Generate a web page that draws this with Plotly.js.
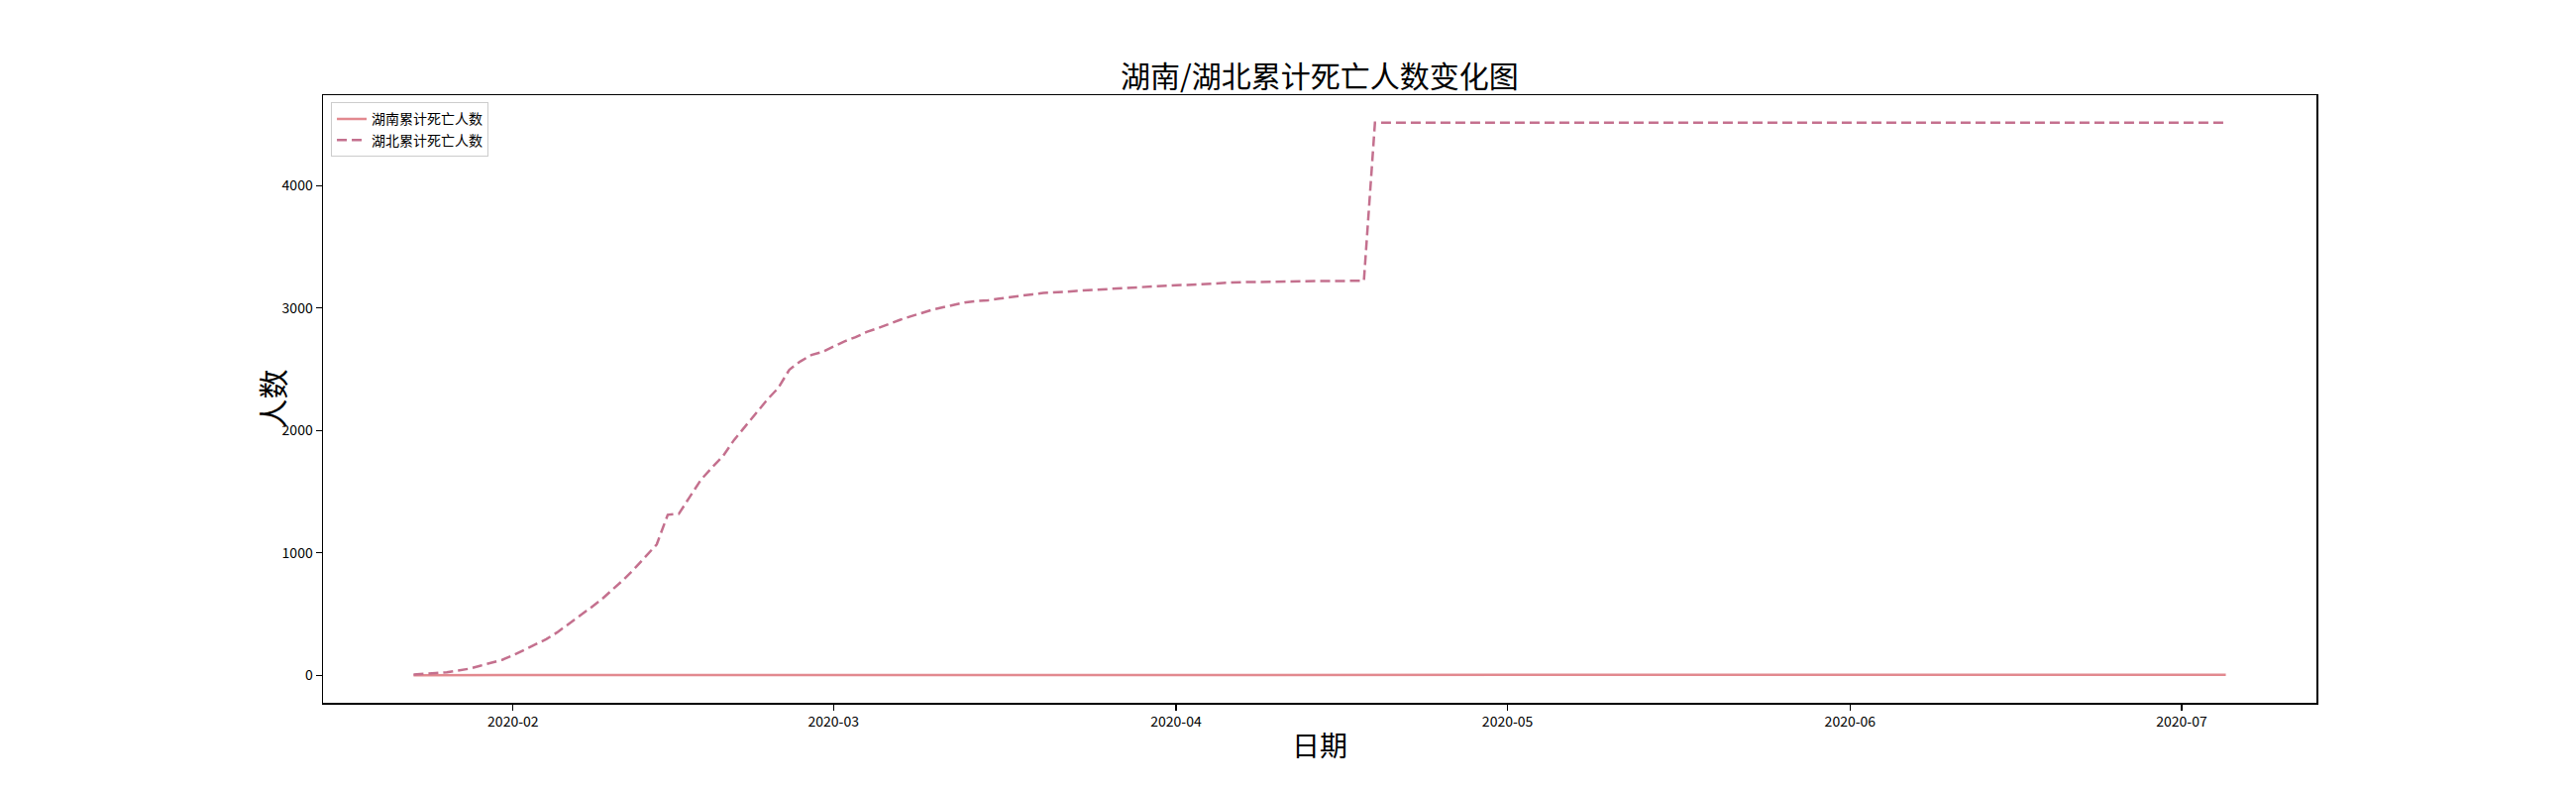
<!DOCTYPE html>
<html>
<head>
<meta charset="utf-8">
<script src="https://cdn.plot.ly/plotly-3.0.1.min.js"></script>
<style>
  html, body { margin: 0; padding: 0; background: #fff; }
  #chart { width: 2600px; height: 800px; }
</style>
</head>
<body>
<div id="chart"></div>
<script>
// ---- data ----
const dates = [
  "2020-01-23","2020-01-24","2020-01-25","2020-01-26","2020-01-27","2020-01-28","2020-01-29","2020-01-30","2020-01-31",
  "2020-02-01","2020-02-02","2020-02-03","2020-02-04","2020-02-05","2020-02-06","2020-02-07","2020-02-08","2020-02-09","2020-02-10",
  "2020-02-11","2020-02-12","2020-02-13","2020-02-14","2020-02-15","2020-02-16","2020-02-17","2020-02-18","2020-02-19","2020-02-20",
  "2020-02-21","2020-02-22","2020-02-23","2020-02-24","2020-02-25","2020-02-26","2020-02-27","2020-02-28","2020-02-29",
  "2020-03-01","2020-03-02","2020-03-03","2020-03-04","2020-03-05","2020-03-06","2020-03-07","2020-03-08","2020-03-09","2020-03-10",
  "2020-03-11","2020-03-12","2020-03-13","2020-03-14","2020-03-15","2020-03-16","2020-03-17","2020-03-18","2020-03-19","2020-03-20",
  "2020-03-21","2020-03-22","2020-03-23","2020-03-24","2020-03-25","2020-03-26","2020-03-27","2020-03-28","2020-03-29","2020-03-30","2020-03-31",
  "2020-04-01","2020-04-02","2020-04-03","2020-04-04","2020-04-05","2020-04-06","2020-04-07","2020-04-08","2020-04-09","2020-04-10",
  "2020-04-11","2020-04-12","2020-04-13","2020-04-14","2020-04-15","2020-04-16","2020-04-17","2020-04-18","2020-04-19","2020-04-20",
  "2020-04-21","2020-04-22","2020-04-23","2020-04-24","2020-04-25","2020-04-26","2020-04-27","2020-04-28","2020-04-29","2020-04-30",
  "2020-05-01","2020-05-02","2020-05-03","2020-05-04","2020-05-05","2020-05-06","2020-05-07","2020-05-08","2020-05-09","2020-05-10",
  "2020-05-11","2020-05-12","2020-05-13","2020-05-14","2020-05-15","2020-05-16","2020-05-17","2020-05-18","2020-05-19","2020-05-20",
  "2020-05-21","2020-05-22","2020-05-23","2020-05-24","2020-05-25","2020-05-26","2020-05-27","2020-05-28","2020-05-29","2020-05-30","2020-05-31",
  "2020-06-01","2020-06-02","2020-06-03","2020-06-04","2020-06-05","2020-06-06","2020-06-07","2020-06-08","2020-06-09","2020-06-10",
  "2020-06-11","2020-06-12","2020-06-13","2020-06-14","2020-06-15","2020-06-16","2020-06-17","2020-06-18","2020-06-19","2020-06-20",
  "2020-06-21","2020-06-22","2020-06-23","2020-06-24","2020-06-25","2020-06-26","2020-06-27","2020-06-28","2020-06-29","2020-06-30",
  "2020-07-01","2020-07-02","2020-07-03","2020-07-04","2020-07-05"
];

const hunanDeaths = [
  0,0,0,0,0,0,0,0,0,
  0,1,1,1,1,2,2,2,2,2,
  2,2,2,3,3,3,3,3,3,3,
  4,4,4,4,4,4,4,4,4,
  4,4,4,4,4,4,4,4,4,4,
  4,4,4,4,4,4,4,4,4,4,
  4,4,4,4,4,4,4,4,4,4,4,
  4,4,4,4,4,4,4,4,4,4,
  4,4,4,4,4,4,4,4,4,4,
  4,4,4,4,4,4,4,4,4,4,
  4,4,4,4,4,4,4,4,4,4,
  4,4,4,4,4,4,4,4,4,4,
  4,4,4,4,4,4,4,4,4,4,4,
  4,4,4,4,4,4,4,4,4,4,
  4,4,4,4,4,4,4,4,4,4,
  4,4,4,4,4,4,4,4,4,4,
  4,4,4,4,4
];

const hubeiDeaths = [
  6,9,17,24,39,52,76,100,125,
  162,204,249,294,350,414,479,549,618,699,
  780,871,974,1068,1310,1318,1457,1596,1696,1789,
  1921,2029,2144,2250,2346,2495,2563,2615,2641,
  2682,2727,2761,2803,2834,2871,2902,2931,2959,2986,
  3007,3024,3046,3056,3062,3075,3085,3099,3111,3122,
  3130,3132,3139,3144,3153,3160,3163,3169,3174,3177,3182,
  3186,3187,3193,3199,3203,3207,3210,3212,3212,3213,
  3215,3216,3219,3219,3219,3221,3222,3222,4512,4512,
  4512,4512,4512,4512,4512,4512,4512,4512,4512,4512,
  4512,4512,4512,4512,4512,4512,4512,4512,4512,4512,
  4512,4512,4512,4512,4512,4512,4512,4512,4512,4512,
  4512,4512,4512,4512,4512,4512,4512,4512,4512,4512,4512,
  4512,4512,4512,4512,4512,4512,4512,4512,4512,4512,
  4512,4512,4512,4512,4512,4512,4512,4512,4512,4512,
  4512,4512,4512,4512,4512,4512,4512,4512,4512,4512,
  4512,4512,4512,4512,4512
];

const seriesNames = ["湖南累计死亡人数", "湖北累计死亡人数"];
const titleText = "湖南/湖北累计死亡人数变化图";
const xLabel = "日期";
const yLabel = "人数";
const yTickVals = [0, 1000, 2000, 3000, 4000];
const xTickVals = ["2020-02-01","2020-03-01","2020-04-01","2020-05-01","2020-06-01","2020-07-01"];
const xTickText = ["2020-02","2020-03","2020-04","2020-05","2020-06","2020-07"];

// ---- chart ----
const FONT = "'Noto Sans CJK SC', 'Noto Sans', sans-serif";

const traces = [
  {
    x: dates, y: hunanDeaths, name: seriesNames[0], type: "scatter", mode: "lines",
    line: { color: "#e2898f", width: 2.5 }
  },
  {
    x: dates, y: hubeiDeaths, name: seriesNames[1], type: "scatter", mode: "lines",
    line: { color: "#c4708e", width: 2.5, dash: "10px,5px" }
  }
];

// matplotlib-like 5% margins around the data
const ymin = 0, ymax = 4512;
const ypad = (ymax - ymin) * 0.05;
const t0 = Date.parse(dates[0] + "T00:00:00Z");
const t1 = Date.parse(dates[dates.length - 1] + "T00:00:00Z");
const tpad = (t1 - t0) * 0.05;
const iso = t => new Date(t).toISOString().replace("T", " ").replace("Z", "");

const layout = {
  width: 2600, height: 800,
  paper_bgcolor: "#ffffff", plot_bgcolor: "#ffffff",
  margin: { l: 326, r: 262, t: 96, b: 91 },
  font: { family: FONT, color: "#000000" },
  title: {
    text: titleText, font: { family: FONT, size: 30, color: "#000" },
    x: 0.5, xref: "paper", xanchor: "center",
    y: 1 - 77 / 800, yref: "container", yanchor: "middle"
  },
  showlegend: true,
  legend: {
    x: 0.004, y: 0.988, xanchor: "left", yanchor: "top",
    bgcolor: "rgba(255,255,255,0.8)", bordercolor: "#cccccc", borderwidth: 1,
    font: { family: FONT, size: 14, color: "#000" },
    tracegroupgap: 0, itemwidth: 30
  },
  xaxis: {
    type: "date",
    range: [iso(t0 - tpad), iso(t1 + tpad)],
    tickmode: "array", tickvals: xTickVals, ticktext: xTickText,
    ticks: "outside", ticklen: 6, tickwidth: 1.2, tickcolor: "#000",
    tickfont: { family: FONT, size: 14, color: "#000" },
    showgrid: false, zeroline: false,
    showline: true, linecolor: "#000", linewidth: 1.5, mirror: true
  },
  yaxis: {
    range: [ymin - ypad, ymax + ypad],
    tickmode: "array", tickvals: yTickVals,
    ticks: "outside", ticklen: 6, tickwidth: 1.2, tickcolor: "#000",
    tickfont: { family: FONT, size: 14, color: "#000" },
    showgrid: false, zeroline: false,
    showline: true, linecolor: "#000", linewidth: 1.5, mirror: true
  },
  annotations: [
    {
      text: xLabel, xref: "paper", yref: "paper", x: 0.5, y: -(751 - 709) / 613,
      xanchor: "center", yanchor: "middle", showarrow: false,
      font: { family: FONT, size: 28, color: "#000" }
    },
    {
      text: yLabel, xref: "paper", yref: "paper", x: (273 - 326) / 2012, y: 0.5,
      xanchor: "center", yanchor: "middle", showarrow: false, textangle: -90,
      font: { family: FONT, size: 30, color: "#000" }
    }
  ]
};

Plotly.newPlot("chart", traces, layout, { staticPlot: true, displayModeBar: false });
</script>
</body>
</html>
